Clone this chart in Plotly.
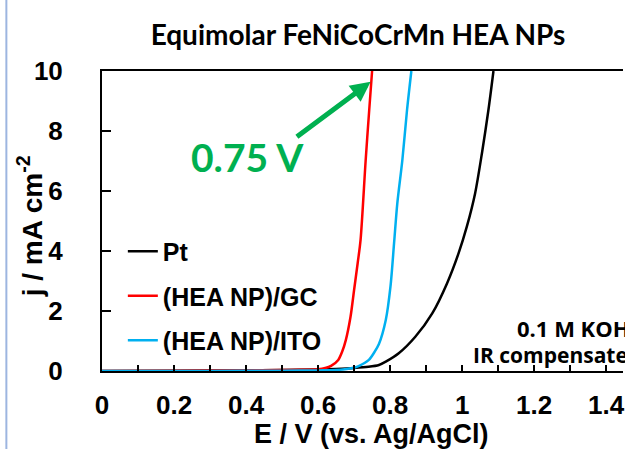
import plotly.graph_objects as go

# ---- data ----
E_pt = [0, 0.2, 0.4, 0.5, 0.6, 0.65, 0.7, 0.74, 0.769, 0.788, 0.824, 0.870, 0.917, 0.958, 0.990, 1.013, 1.036, 1.055, 1.073, 1.087]
j_pt = [0, 0.01, 0.02, 0.03, 0.05, 0.07, 0.1, 0.14, 0.2, 0.31, 0.59, 1.14, 1.92, 2.92, 3.92, 4.81, 5.92, 7.26, 8.7, 10.0]

E_gc = [0, 0.2, 0.4, 0.5, 0.55, 0.6, 0.62, 0.636, 0.656, 0.667, 0.677, 0.69, 0.70, 0.71, 0.718, 0.732, 0.742, 0.75]
j_gc = [0, 0.01, 0.02, 0.03, 0.04, 0.06, 0.1, 0.17, 0.37, 0.65, 1.03, 1.8, 2.7, 3.6, 4.37, 7.0, 8.7, 10.0]

E_ito = [0, 0.2, 0.4, 0.5, 0.6, 0.65, 0.68, 0.70, 0.714, 0.741, 0.755, 0.769, 0.788, 0.801, 0.811, 0.820, 0.834, 0.847, 0.859]
j_ito = [0, 0.0, 0.005, 0.01, 0.02, 0.03, 0.07, 0.11, 0.17, 0.37, 0.6, 0.9, 1.7, 2.81, 4.26, 5.59, 7.03, 8.7, 10.0]

series_names = ["Pt", "(HEA NP)/GC", "(HEA NP)/ITO"]
series_colors = ["#000000", "#FF0000", "#00B0F0"]

x_range = [0, 1.4467]
y_range = [0, 10]

onset_label = "0.75 V"
onset_E = 0.746
onset_j = 9.64
arrow_tail_E = 0.537
arrow_tail_j = 7.77

title_text = "Equimolar FeNiCoCrMn HEA NPs"
x_title = "E / V (vs. Ag/AgCl)"
y_title = "j / mA cm<sup>-2</sup>"
note1 = "0.1 M KOH"
note2 = "IR compensated"

ARIAL = "Liberation Sans"
CAL = "Lato"
TICKFONT = dict(family=ARIAL, size=26, color="black", weight="bold")

fig = go.Figure()
for E, j, name, col in zip([E_pt, E_gc, E_ito], [j_pt, j_gc, j_ito], series_names, series_colors):
    fig.add_trace(go.Scatter(x=E, y=j, mode="lines", name=name, legendgroup=name,
                             line=dict(color=col, width=2.5, shape="spline", smoothing=0.8)))

fig.update_layout(
    width=625, height=449,
    margin=dict(l=102, r=0, t=71, b=78),
    paper_bgcolor="white", plot_bgcolor="white",
    showlegend=True,
    legend=dict(x=0.040, y=0.25, xanchor="left", yanchor="middle",
                bgcolor="rgba(0,0,0,0)", font=dict(family=ARIAL, size=25, color="black", weight="bold"),
                tracegroupgap=9, itemwidth=30),
    title=dict(text=title_text, x=358/625, y=1-35/449, xanchor="center", yanchor="middle",
               xref="container", yref="container",
               font=dict(family=CAL, size=28, color="black", weight="bold")),
)

fig.update_xaxes(range=x_range, dtick=0.2, tick0=0, ticks="inside", ticklen=6, tickwidth=1.5,
                 tickcolor="black", showline=True, linecolor="black", linewidth=2, mirror=True,
                 showgrid=False, zeroline=False, tickfont=TICKFONT, ticklabelstandoff=10,
                 ticklabeloverflow="allow",
                 minor=dict(dtick=0.1, ticks="inside", ticklen=6, tickwidth=1.5, tickcolor="black", showgrid=False))
fig.update_yaxes(range=y_range, dtick=2, tick0=0, ticks="inside", ticklen=9, tickwidth=1.5,
                 tickcolor="black", showline=True, linecolor="black", linewidth=2,
                 showgrid=False, zeroline=False, tickfont=TICKFONT, ticklabelstandoff=32,
                 ticklabeloverflow="allow")

# axis titles
fig.add_annotation(text=x_title, xref="paper", yref="paper", x=(373-102)/523, y=(371-434)/300,
                   showarrow=False, xanchor="center", yanchor="middle",
                   font=dict(family=ARIAL, size=27, color="black", weight="bold"))
fig.add_annotation(text=y_title, xref="paper", yref="paper", x=(30-102)/523, y=(371-226)/300,
                   showarrow=False, xanchor="center", yanchor="middle", textangle=-90,
                   font=dict(family=ARIAL, size=28, color="black", weight="bold"))

# conditions
fig.add_annotation(text=note1, xref="paper", yref="paper", x=(517-102)/523, y=(371-328)/300,
                   showarrow=False, xanchor="left", yanchor="middle",
                   font=dict(family="Open Sans", size=22, color="black", weight="bold"))
fig.add_annotation(text=note2, xref="paper", yref="paper", x=(472-102)/523, y=(371-355)/300,
                   showarrow=False, xanchor="left", yanchor="middle",
                   font=dict(family="Open Sans", size=21, color="black", weight="bold"))

# onset arrow + label
fig.add_annotation(x=onset_E, y=onset_j, ax=arrow_tail_E, ay=arrow_tail_j, xref="x", yref="y",
                   axref="x", ayref="y", text="", showarrow=True, arrowhead=2, arrowsize=0.8,
                   arrowwidth=5, arrowcolor="#00B050")
fig.add_annotation(text=onset_label, xref="paper", yref="paper", x=(248-102)/523, y=(371-157)/300,
                   showarrow=False, xanchor="center", yanchor="middle",
                   font=dict(family=CAL, size=39, color="#00B050", weight="bold"))

# slide border line on the left
fig.add_shape(type="line", xref="paper", yref="paper", x0=(6-102)/523, x1=(6-102)/523,
              y0=-78/300, y1=449/300, line=dict(color="#9DB5E0", width=2))

fig.write_html("out.html")
